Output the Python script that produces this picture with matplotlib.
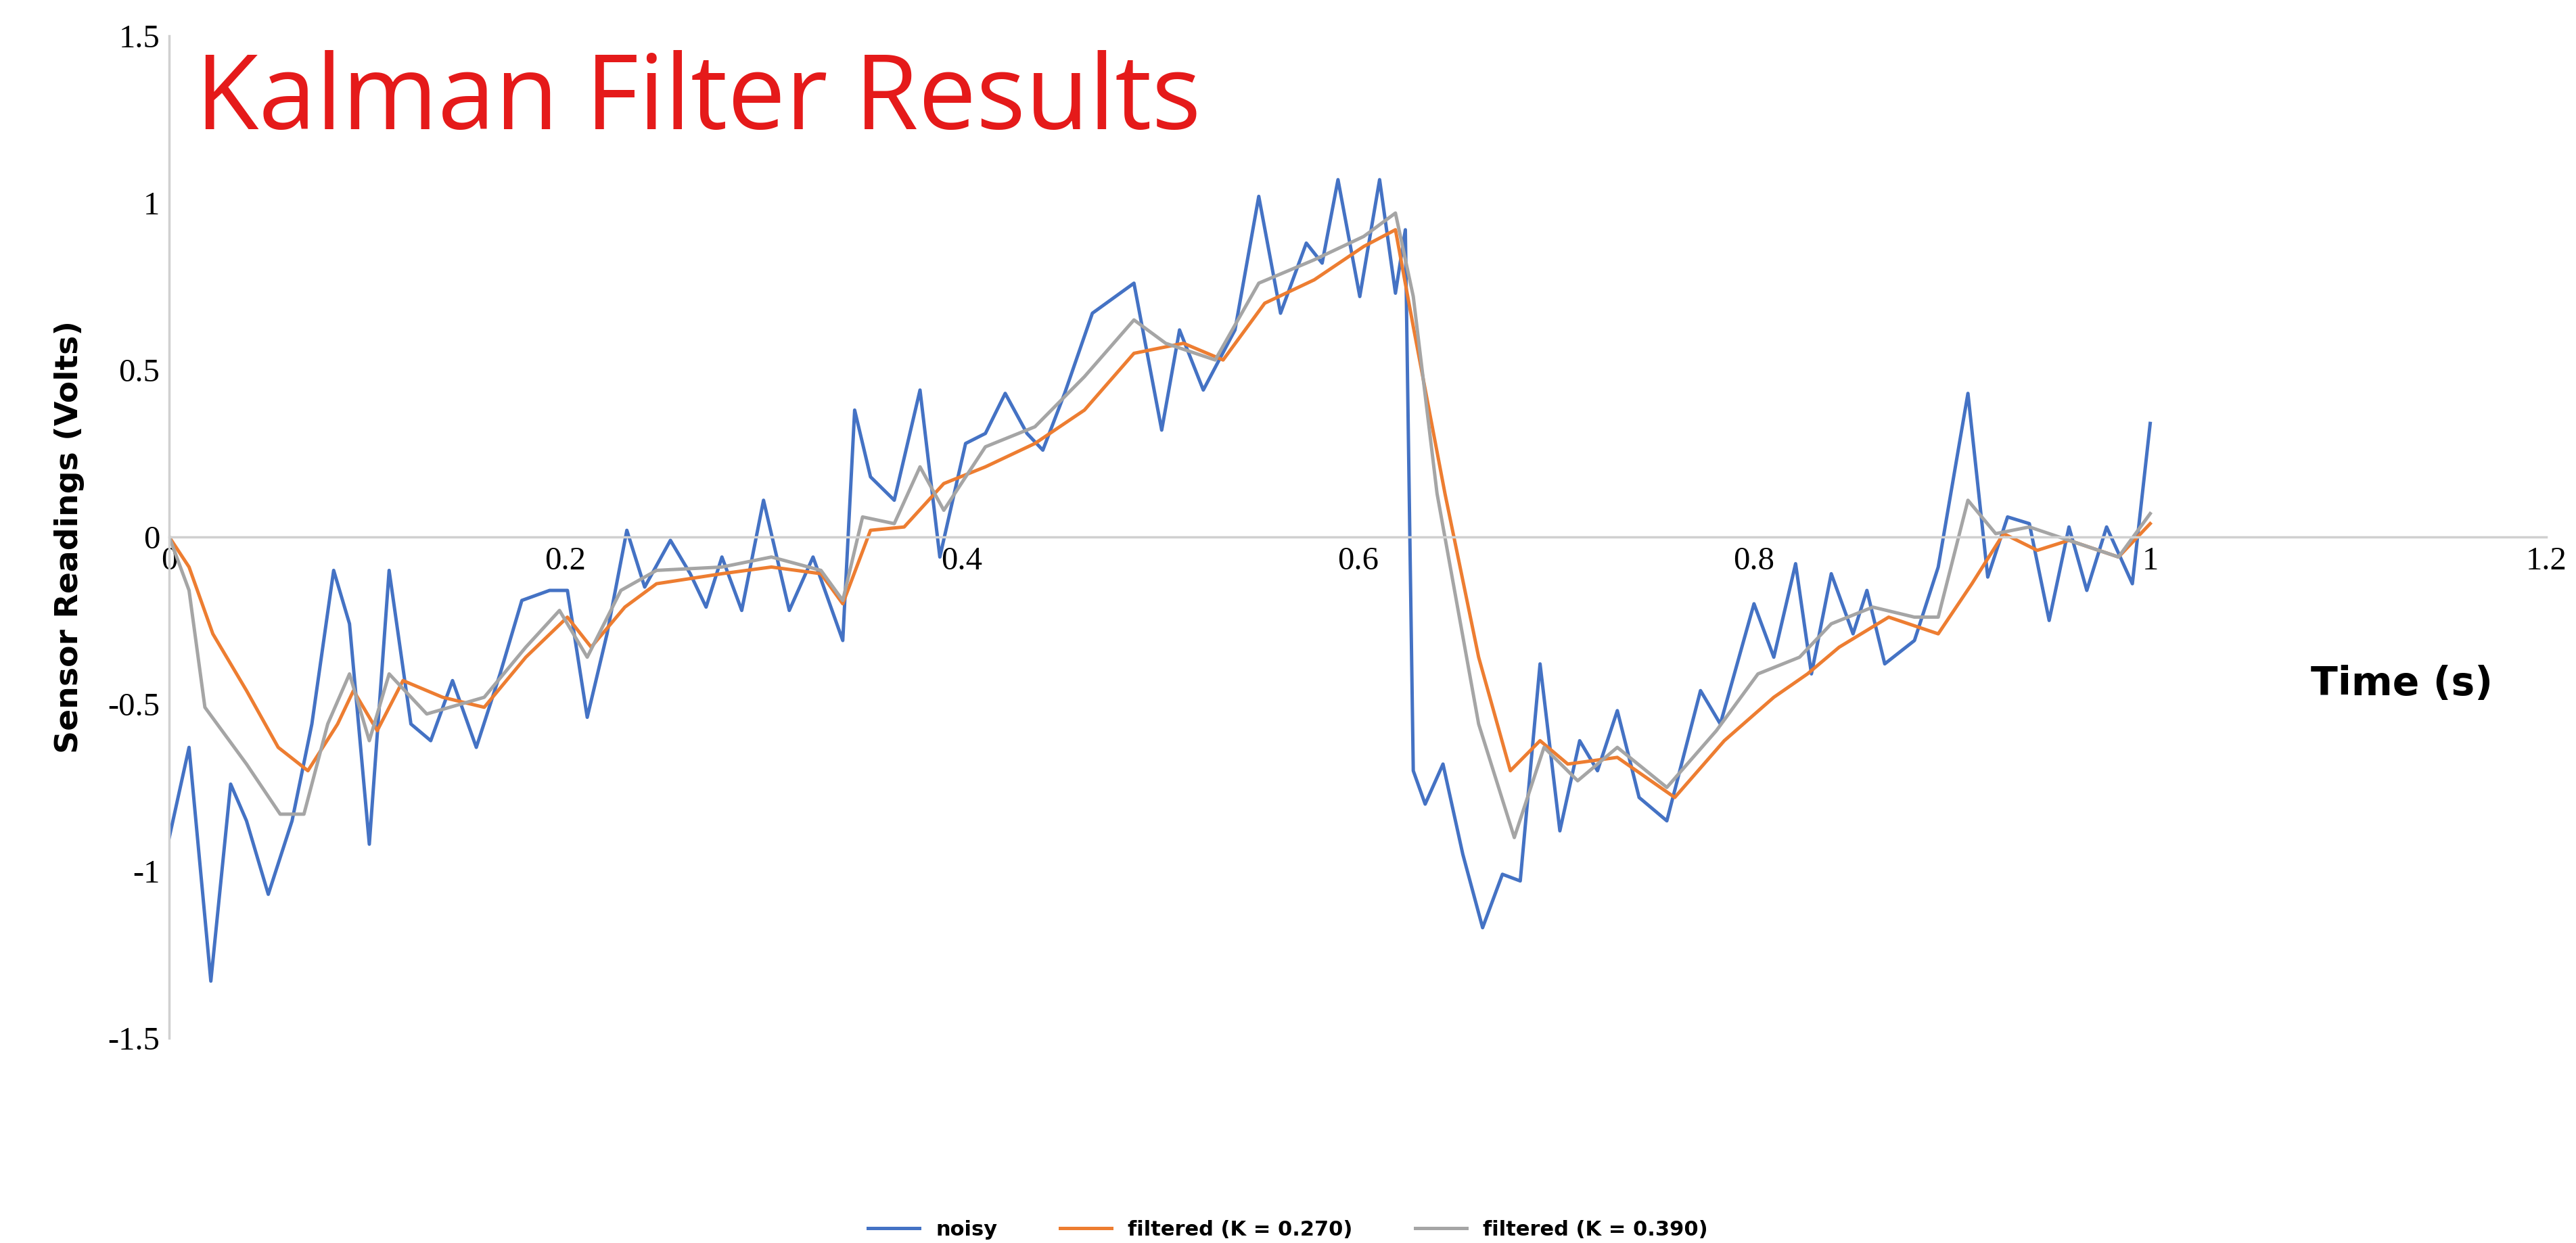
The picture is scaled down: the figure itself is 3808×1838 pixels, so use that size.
import numpy as np
import matplotlib
matplotlib.use("Agg")
import matplotlib.pyplot as plt

# noisy sensor readings
noisy_t = [0, .010, .021, .031, .039, .050, .062, .072, .083, .091, .101, .111, .122, .132, .143,
           .155, .167, .178, .192, .201, .211, .221, .231, .240, .253, .263, .271, .279, .289, .300,
           .313, .325, .340, .346, .354, .366, .379, .389, .402, .412, .422, .433, .441, .452, .466,
           .487, .501, .510, .522, .538, .550, .561, .574, .582, .590, .601, .611, .619, .624, .628,
           .634, .643, .653, .663, .673, .682, .692, .702, .712, .721, .731, .742, .756, .773, .783,
           .800, .810, .821, .829, .839, .850, .857, .866, .881, .893, .908, .918, .928, .939, .949,
           .959, .968, .978, .991, 1.0]
noisy_v = [-.90, -.63, -1.33, -.74, -.85, -1.07, -.85, -.56, -.10, -.26, -.92, -.10, -.56, -.61, -.43,
           -.63, -.41, -.19, -.16, -.16, -.54, -.29, .02, -.15, -.01, -.11, -.21, -.06, -.22, .11,
           -.22, -.06, -.31, .38, .18, .11, .44, -.06, .28, .31, .43, .31, .26, .43, .67,
           .76, .32, .62, .44, .62, 1.02, .67, .88, .82, 1.07, .72, 1.07, .73, .92, -.70,
           -.80, -.68, -.95, -1.17, -1.01, -1.03, -.38, -.88, -.61, -.70, -.52, -.78, -.85, -.46, -.56,
           -.20, -.36, -.08, -.41, -.11, -.29, -.16, -.38, -.31, -.09, .43, -.12, .06, .04, -.25,
           .03, -.16, .03, -.14, .34]

# filtered, K = 0.270
k270_t = [0, .010, .022, .039, .055, .070, .085, .093, .105, .118, .138, .159, .180, .201, .213,
          .230, .246, .279, .304, .329, .340, .354, .371, .391, .412, .437, .462, .487, .512, .532,
          .553, .578, .603, .619, .628, .644, .661, .677, .692, .706, .731, .760, .785, .810, .827,
          .843, .868, .893, .910, .926, .943, .959, .984, 1.0]
k270_v = [0, -.09, -.29, -.46, -.63, -.70, -.56, -.46, -.58, -.43, -.48, -.51, -.36, -.24, -.33,
          -.21, -.14, -.11, -.09, -.11, -.20, .02, .03, .16, .21, .28, .38, .55, .58, .53,
          .70, .77, .87, .92, .63, .13, -.36, -.70, -.61, -.68, -.66, -.78, -.61, -.48, -.41,
          -.33, -.24, -.29, -.14, .01, -.04, -.01, -.06, .04]

# filtered, K = 0.390
k390_t = [0, .010, .018, .039, .056, .068, .080, .091, .101, .111, .130, .159, .180, .197, .211,
          .228, .246, .279, .304, .329, .340, .350, .366, .379, .391, .412, .437, .462, .487, .503,
          .528, .550, .578, .603, .619, .628, .640, .661, .679, .694, .711, .731, .756, .781, .802,
          .823, .839, .860, .881, .893, .908, .922, .939, .959, .984, 1.0]
k390_v = [0, -.16, -.51, -.68, -.83, -.83, -.56, -.41, -.61, -.41, -.53, -.48, -.33, -.22, -.36,
          -.16, -.10, -.09, -.06, -.10, -.19, .06, .04, .21, .08, .27, .33, .48, .65, .58,
          .53, .76, .83, .90, .97, .72, .13, -.56, -.90, -.63, -.73, -.63, -.75, -.58, -.41,
          -.36, -.26, -.21, -.24, -.24, .11, .01, .03, -.01, -.06, .07]

fig = plt.figure(figsize=(38.08, 18.38), dpi=100)
ax = fig.add_axes([0.0657, 0.165, 0.9228, 0.806])

lw = 3.6
ax.plot(noisy_t, noisy_v, color="#4472C4", lw=lw, label="noisy")
ax.plot(k270_t, k270_v, color="#ED7D31", lw=lw, label="filtered (K = 0.270)")
ax.plot(k390_t, k390_v, color="#A5A5A5", lw=lw, label="filtered (K = 0.390)")

ax.set_xlim(0, 1.2)
ax.set_ylim(-1.5, 1.5)
ax.set_xticks([0, 0.2, 0.4, 0.6, 0.8, 1.0, 1.2])
ax.set_xticklabels(["0", "0.2", "0.4", "0.6", "0.8", "1", "1.2"])
ax.set_yticks([-1.5, -1, -0.5, 0, 0.5, 1, 1.5])
ax.set_yticklabels(["-1.5", "-1", "-0.5", "0", "0.5", "1", "1.5"])

for s in ["top", "right"]:
    ax.spines[s].set_visible(False)
ax.spines["bottom"].set_position(("data", 0))
ax.spines["bottom"].set_color("#D0D0D0")
ax.spines["left"].set_color("#D0D0D0")
ax.spines["bottom"].set_linewidth(2.5)
ax.spines["left"].set_linewidth(2.5)
ax.tick_params(length=0, labelsize=35, pad=10)
for t in ax.get_xticklabels() + ax.get_yticklabels():
    t.set_family("Liberation Serif")

ax.set_ylabel("Sensor Readings (Volts)", fontsize=34, fontweight="bold", labelpad=25)
ax.text(1.127, -0.44, "Time (s)", fontsize=42, fontweight="bold", ha="center", va="center")
fig.text(0.076, 0.918, "Kalman Filter Results", color="#E51A1A", fontsize=110,
         family="Open Sans", va="center")

fig.legend(loc="lower center", bbox_to_anchor=(0.5, -0.012), ncol=3, frameon=False,
           prop={"size": 22, "weight": "bold"}, handlelength=2.5, columnspacing=3)

fig.savefig("out.png", dpi=100)
